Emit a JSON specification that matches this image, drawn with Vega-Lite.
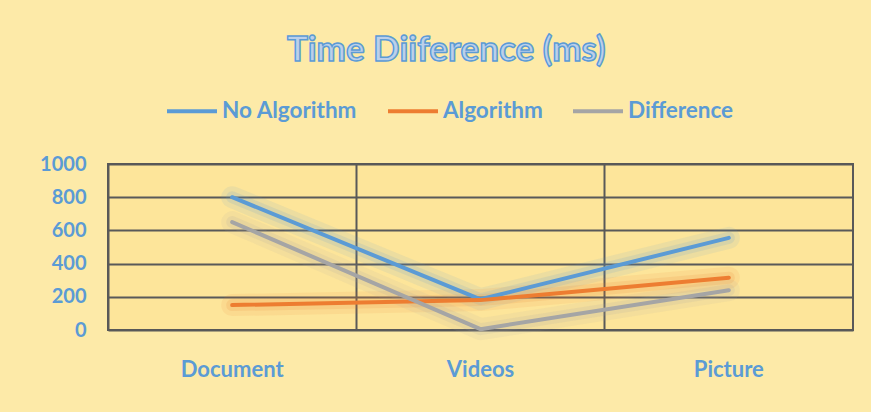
{
  "$schema": "https://vega.github.io/schema/vega-lite/v6.json",
  "width": 745,
  "height": 166,
  "autosize": {"type": "none"},
  "padding": {"left": 108, "top": 164, "right": 18, "bottom": 82},
  "background": "#fdeaa8",
  "title": {
    "text": "Time Diiference (ms)",
    "font": "Lato",
    "fontSize": 35,
    "fontWeight": "bold",
    "color": "#bcd0ea",
    "frame": "bounds",
    "anchor": "middle",
    "offset": 16,
    "encode": {"title": {"update": {"stroke": {"value": "#5B9BD5"}, "strokeWidth": {"value": 1.5}}}}
  },
  "data": {
    "values": [
      {"category": "Document", "series": "No Algorithm", "value": 800},
      {"category": "Document", "series": "Algorithm", "value": 150},
      {"category": "Document", "series": "Difference", "value": 650},
      {"category": "Videos", "series": "No Algorithm", "value": 185},
      {"category": "Videos", "series": "Algorithm", "value": 180},
      {"category": "Videos", "series": "Difference", "value": 5},
      {"category": "Picture", "series": "No Algorithm", "value": 555},
      {"category": "Picture", "series": "Algorithm", "value": 315},
      {"category": "Picture", "series": "Difference", "value": 240}
    ]
  },
  "encoding": {
    "x": {
      "field": "category",
      "type": "nominal",
      "sort": ["Document", "Videos", "Picture"],
      "scale": {"type": "band", "paddingInner": 0, "paddingOuter": 0},
      "axis": {
        "title": null,
        "labelAngle": 0,
        "labelFont": "Lato",
        "labelFontSize": 22,
        "labelFontWeight": "bold",
        "labelColor": "#5B9BD5",
        "labelPadding": 29,
        "ticks": false,
        "domain": false,
        "grid": true,
        "bandPosition": 0,
        "gridColor": "#595959",
        "gridWidth": 2,
        "gridOpacity": 1
      }
    },
    "y": {
      "field": "value",
      "type": "quantitative",
      "scale": {"domain": [0, 1000], "nice": false},
      "axis": {
        "title": null,
        "values": [0, 200, 400, 600, 800, 1000],
        "format": "d",
        "labelFont": "Lato",
        "labelFontSize": 20,
        "labelFontWeight": "bold",
        "labelColor": "#5B9BD5",
        "labelPadding": 22,
        "ticks": false,
        "domain": false,
        "grid": true,
        "gridColor": "#595959",
        "gridWidth": 2,
        "gridOpacity": 1
      }
    },
    "color": {
      "field": "series",
      "type": "nominal",
      "scale": {
        "domain": ["No Algorithm", "Algorithm", "Difference"],
        "range": ["#5B9BD5", "#ED7D31", "#A5A5A5"]
      },
      "legend": {
        "title": null,
        "orient": "none",
        "legendX": 57,
        "legendY": -80,
        "direction": "horizontal",
        "symbolType": "stroke",
        "symbolSize": 2500,
        "symbolStrokeWidth": 4,
        "symbolOpacity": 1,
        "labelFont": "Lato",
        "labelFontSize": 22.5,
        "labelFontWeight": "bold",
        "labelColor": "#5B9BD5",
        "labelOffset": 3,
        "columnPadding": 22
      }
    }
  },
  "layer": [
    {"mark": {"type": "line", "strokeWidth": 22, "opacity": 0.1, "strokeCap": "round", "strokeJoin": "round"}},
    {"mark": {"type": "line", "strokeWidth": 12, "opacity": 0.14, "strokeCap": "round", "strokeJoin": "round"}},
    {"mark": {"type": "line", "strokeWidth": 4, "strokeCap": "round", "strokeJoin": "round"}}
  ],
  "config": {
    "view": {"stroke": "#595959", "strokeWidth": 2, "fill": "#fde59a"}
  }
}
